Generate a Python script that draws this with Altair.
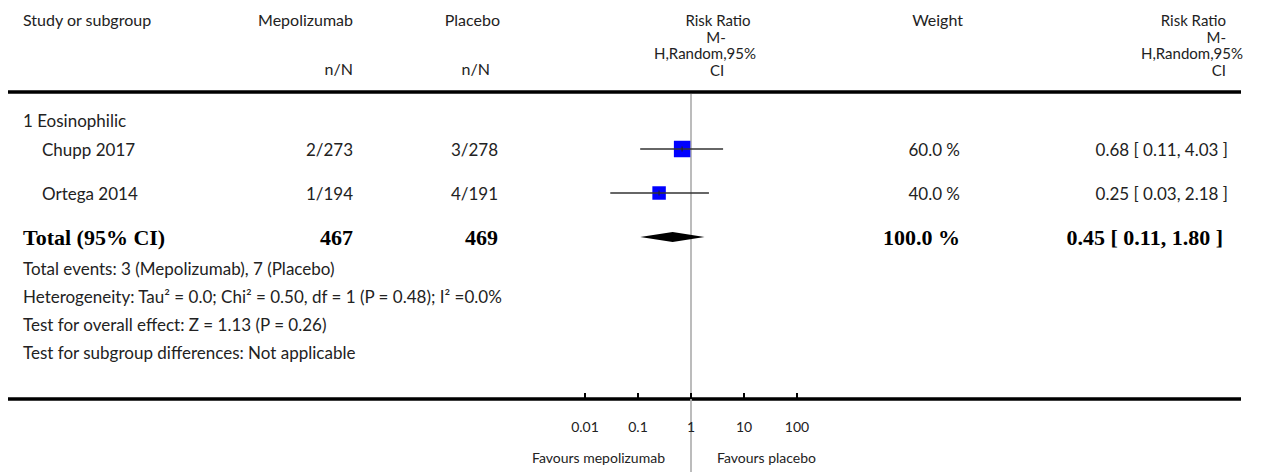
import altair as alt
import pandas as pd

# ---------------- data ----------------
studies = ["Chupp 2017", "Ortega 2014"]
mep_events = ["2/273", "1/194"]
pla_events = ["3/278", "4/191"]
rr = [0.68, 0.25]
rr_lo = [0.11, 0.03]
rr_hi = [4.03, 2.18]
weights = [60.0, 40.0]
weight_labels = ["60.0 %", "40.0 %"]
ci_labels = ["0.68 [ 0.11, 4.03 ]", "0.25 [ 0.03, 2.18 ]"]

total_rr = 0.45
total_lo = 0.11
total_hi = 1.80
total_mep = "467"
total_pla = "469"
total_weight = "100.0 %"
total_ci = "0.45 [ 0.11, 1.80 ]"

axis_ticks = [0.01, 0.1, 1, 10, 100]
axis_tick_labels = ["0.01", "0.1", "1", "10", "100"]

footer_lines = [
    "Total events: 3 (Mepolizumab), 7 (Placebo)",
    "Heterogeneity: Tau\u00b2 = 0.0; Chi\u00b2 = 0.50, df = 1 (P = 0.48); I\u00b2 =0.0%",
    "Test for overall effect: Z = 1.13 (P = 0.26)",
    "Test for subgroup differences: Not applicable",
]

# ---------------- layout ----------------
W, H = 1254, 464
PX_PER_DEC = 53.0
X_ONE = 683.0
L0 = -X_ONE / PX_PER_DEC
L1 = (W - X_ONE) / PX_PER_DEC
xscale = alt.Scale(type="log", domain=[10 ** L0, 10 ** L1], nice=False)

ROW0 = 141.0
ROW_H = 44.0
yscale = alt.Scale(domain=[-ROW0 / ROW_H, (H - ROW0) / ROW_H], reverse=True, nice=False, zero=False)

SANS = "Lato"
SERIF = "Liberation Serif"
FS = 17
HFS = 15
BFS = 22
TXT = "#222222"

rows = list(range(len(studies)))
df = pd.DataFrame({
    "study": studies, "mep": mep_events, "pla": pla_events,
    "rr": rr, "lo": rr_lo, "hi": rr_hi, "w": weights,
    "wl": weight_labels, "ci": ci_labels, "row": rows,
})
total_row = len(studies)

X = lambda f: alt.X(f, type="quantitative", scale=xscale, axis=None)
Y = lambda f: alt.Y(f, type="quantitative", scale=yscale, axis=None)

layers = []


def txt(text, x, y, align="left", font=SANS, size=FS, weight="normal", color=TXT):
    return alt.Chart(pd.DataFrame({"t": [text]})).mark_text(
        align=align, baseline="middle", font=font, fontSize=size,
        fontWeight=weight, color=color,
    ).encode(text="t:N", x=alt.value(x), y=alt.value(y))


# header
layers += [
    txt("Study or subgroup", 15, 13, size=HFS + 1),
    txt("Mepolizumab", 345, 13, "right", size=HFS + 1),
    txt("Placebo", 492, 13, "right", size=HFS + 1),
    txt("n/N", 345, 62, "right", size=HFS + 1),
    txt("n/N", 482, 62, "right", size=HFS + 1),
    txt("Risk Ratio", 710, 13, "center", size=HFS),
    txt("M-", 708, 29.5, "center", size=HFS),
    txt("H,Random,95%", 697, 46, "center", size=HFS),
    txt("CI", 709, 62.5, "center", size=HFS),
    txt("Weight", 955, 13, "right", size=HFS + 1),
    txt("Risk Ratio", 1218, 13, "right", size=HFS),
    txt("M-", 1218, 29.5, "right", size=HFS),
    txt("H,Random,95%", 1235, 46, "right", size=HFS),
    txt("CI", 1218, 62.5, "right", size=HFS),
    txt("1 Eosinophilic", 15, 114),
]

# thick horizontal rules
hl = pd.DataFrame({"k": [0]})
layers.append(alt.Chart(hl).mark_rule(color="black", strokeWidth=3.5).encode(
    x=alt.value(-1), x2=alt.value(1233), y=alt.value(84)))
layers.append(alt.Chart(hl).mark_rule(color="black", strokeWidth=3.5).encode(
    x=alt.value(-1), x2=alt.value(1233), y=alt.value(391)))

# reference line at RR = 1
layers.append(alt.Chart(pd.DataFrame({"v": [1.0]})).mark_rule(color="#b5b5b5", strokeWidth=1.8).encode(
    x=X("v"), y=alt.value(86), y2=alt.value(464)))

# study rows text
base = alt.Chart(df)
common = dict(baseline="middle", font=SANS, fontSize=FS, color=TXT, dy=2)
layers += [
    base.mark_text(align="left", **common).encode(x=alt.value(34), y=Y("row"), text="study:N"),
    base.mark_text(align="right", **common).encode(x=alt.value(345), y=Y("row"), text="mep:N"),
    base.mark_text(align="right", **common).encode(x=alt.value(490), y=Y("row"), text="pla:N"),
    base.mark_text(align="right", **common).encode(x=alt.value(952), y=Y("row"), text="wl:N"),
    base.mark_text(align="right", **common).encode(x=alt.value(1220), y=Y("row"), text="ci:N"),
]

# squares, CI lines, estimate ticks
layers.append(base.mark_square(color="#0000ff", opacity=1).encode(
    x=X("rr"), y=Y("row"),
    size=alt.Size("w:Q", scale=alt.Scale(domain=[0, 60], range=[0, 272]), legend=None)))
layers.append(base.mark_rule(color="#333333", strokeWidth=1.5).encode(
    x=X("lo"), x2="hi:Q", y=Y("row")))
layers.append(base.mark_tick(color="#222222", thickness=1.5, size=5, orient="vertical").encode(
    x=X("rr"), y=Y("row")))

# total diamond
d = 5.0 / ROW_H
diamond = pd.DataFrame({
    "x": [total_lo, total_rr, total_hi],
    "y": [total_row, total_row - d, total_row],
    "y2": [total_row, total_row + d, total_row],
})
layers.append(alt.Chart(diamond).mark_area(color="black", orient="vertical").encode(
    x=X("x"), y=Y("y"), y2="y2:Q"))

# total row text
TY = 230
layers += [
    txt("Total (95% CI)", 15, TY, "left", SERIF, BFS, "bold", "black"),
    txt(total_mep, 345, TY, "right", SERIF, BFS, "bold", "black"),
    txt(total_pla, 490, TY, "right", SERIF, BFS, "bold", "black"),
    txt(total_weight, 952, TY, "right", SERIF, BFS, "bold", "black"),
    txt(total_ci, 1215, TY, "right", SERIF, BFS, "bold", "black"),
]

# footer lines
for i, line in enumerate(footer_lines):
    layers.append(txt(line, 15, 262 + 28 * i))

# bottom axis ticks and labels
tk = pd.DataFrame({"v": axis_ticks, "lab": axis_tick_labels})
layers.append(alt.Chart(tk).mark_rule(color="black", strokeWidth=2).encode(
    x=X("v"), y=alt.value(385), y2=alt.value(391)))
layers.append(alt.Chart(tk).mark_text(baseline="middle", align="center", font=SANS, fontSize=14, color=TXT).encode(
    x=X("v"), y=alt.value(420), text="lab:N"))
layers += [
    txt("Favours mepolizumab", 657, 451, "right", size=14),
    txt("Favours placebo", 709, 451, "left", size=14),
]

chart = alt.layer(*layers).properties(
    width=W, height=H, padding=0, autosize=alt.AutoSizeParams(type="none")
).configure_view(stroke=None)

chart.save("out.html", embed_options={"renderer": "svg", "actions": False})
